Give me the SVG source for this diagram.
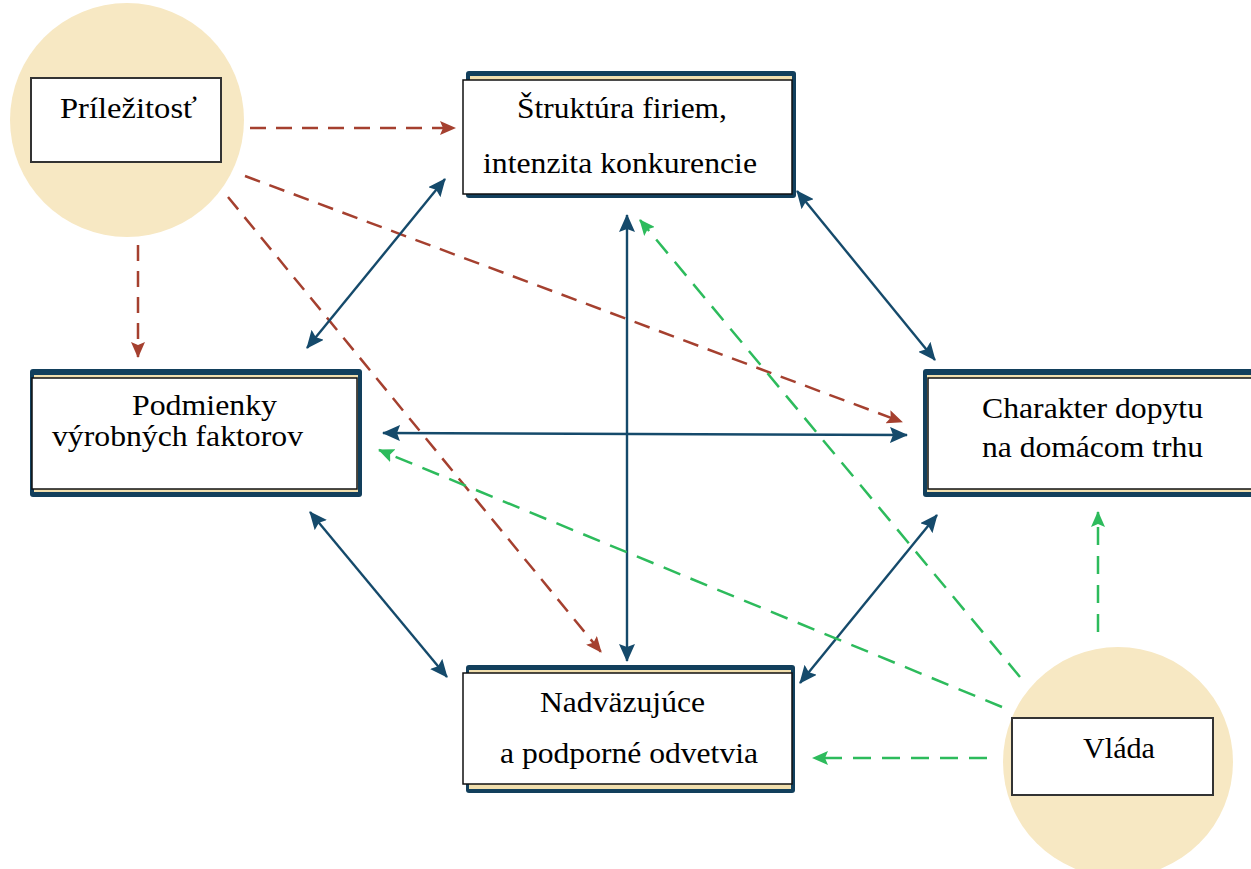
<svg xmlns="http://www.w3.org/2000/svg" width="1251" height="869" viewBox="0 0 1251 869">
  <defs>
    <style>
      .circ { fill: #f7e8c3; }
      .navy { fill: #123f5c; }
      .cream { fill: #f1dfae; }
      .inner { fill: #ffffff; stroke: #111111; stroke-width: 1.5; }
      .sbox { fill: #ffffff; stroke: #333333; stroke-width: 2; }
      .lbl { font-size: 30px; fill: #000000; }
      .nv { stroke: #154a6b; stroke-width: 2.4; fill: none; marker-start: url(#hN); marker-end: url(#hN); }
      .br { stroke: #a5402f; stroke-width: 2.5; fill: none; stroke-dasharray: 16 10; marker-end: url(#hB); }
      .gr { stroke: #2dbb5c; stroke-width: 2.5; fill: none; stroke-dasharray: 18 11; marker-end: url(#hG); }
    </style>
    <marker id="hN" markerUnits="userSpaceOnUse" markerWidth="18" markerHeight="16" refX="17" refY="8" orient="auto-start-reverse">
      <path d="M0,0 L18,8 L0,16 L3,8 z" fill="#154a6b"/>
    </marker>
    <marker id="hB" markerUnits="userSpaceOnUse" markerWidth="16" markerHeight="14" refX="15" refY="7" orient="auto">
      <path d="M0,0 L16,7 L0,14 L3,7 z" fill="#a5402f"/>
    </marker>
    <marker id="hG" markerUnits="userSpaceOnUse" markerWidth="16" markerHeight="14" refX="15" refY="7" orient="auto">
      <path d="M0,0 L16,7 L0,14 L3,7 z" fill="#2dbb5c"/>
    </marker>
  </defs>

  <rect width="1251" height="869" fill="#ffffff"/>

  <g font-family="'Liberation Serif', Tinos, 'Times New Roman', 'DejaVu Serif', serif">
  <g id="prilezitost">
    <circle class="circ" cx="127" cy="120" r="117"/>
    <rect class="sbox" x="31" y="78" width="190" height="84"/>
    <text class="lbl" x="60" y="118" textLength="137" lengthAdjust="spacingAndGlyphs">Príležitosť</text>
  </g>

  <g id="vlada">
    <circle class="circ" cx="1118" cy="762" r="115"/>
    <rect class="sbox" x="1012" y="718" width="201" height="77"/>
    <text class="lbl" x="1083" y="758" textLength="72" lengthAdjust="spacingAndGlyphs">Vláda</text>
  </g>

  <g id="struktura">
    <rect class="navy" x="466" y="71" width="330" height="127" rx="3"/>
    <rect class="cream" x="470" y="76" width="322" height="6"/>
    <rect class="inner" x="463" y="80" width="329" height="114"/>
    <text class="lbl" x="517" y="118" textLength="210" lengthAdjust="spacingAndGlyphs">Štruktúra firiem,</text>
    <text class="lbl" x="483" y="173" textLength="274" lengthAdjust="spacingAndGlyphs">intenzita konkurencie</text>
  </g>

  <g id="podmienky">
    <rect class="navy" x="30" y="369" width="332" height="128" rx="3"/>
    <rect class="cream" x="34" y="375" width="324" height="117"/>
    <rect class="inner" x="32" y="378" width="325" height="111"/>
    <text class="lbl" x="132" y="415" font-size="28" textLength="145" lengthAdjust="spacingAndGlyphs">Podmienky</text>
    <text class="lbl" x="52" y="446" font-size="28" textLength="251" lengthAdjust="spacingAndGlyphs">výrobných faktorov</text>
  </g>

  <g id="charakter">
    <rect class="navy" x="923" y="369" width="340" height="128" rx="3"/>
    <rect class="cream" x="927" y="375" width="330" height="117"/>
    <rect class="inner" x="928" y="378" width="330" height="111"/>
    <text class="lbl" x="982" y="418" textLength="221" lengthAdjust="spacingAndGlyphs">Charakter dopytu</text>
    <text class="lbl" x="982" y="457" textLength="221" lengthAdjust="spacingAndGlyphs">na domácom trhu</text>
  </g>

  <g id="nadvazujuce">
    <rect class="navy" x="466" y="665" width="329" height="128" rx="3"/>
    <rect class="cream" x="469" y="670" width="322" height="119"/>
    <rect class="inner" x="463" y="673" width="329" height="111"/>
    <text class="lbl" x="540" y="712" textLength="165" lengthAdjust="spacingAndGlyphs">Nadväzujúce</text>
    <text class="lbl" x="500" y="763" textLength="258" lengthAdjust="spacingAndGlyphs">a podporné odvetvia</text>
  </g>
  </g>

  <g id="connectors">
    <line class="br" x1="250" y1="128" x2="455" y2="128"/>
    <line class="br" x1="245" y1="176" x2="902" y2="422"/>
    <line class="br" x1="228" y1="197" x2="601" y2="652"/>
    <line class="br" x1="138" y1="245" x2="138" y2="357"/>

    <line class="nv" x1="445" y1="179" x2="307" y2="348"/>
    <line class="nv" x1="797" y1="191" x2="935" y2="360"/>
    <line class="nv" x1="627" y1="215" x2="627" y2="661"/>
    <line class="nv" x1="383" y1="433" x2="907" y2="435"/>
    <line class="nv" x1="310" y1="512" x2="447" y2="677"/>
    <line class="nv" x1="937" y1="515" x2="800" y2="683"/>

    <line class="gr" x1="1020" y1="677" x2="640" y2="220"/>
    <line class="gr" x1="1002" y1="707" x2="379" y2="450"/>
    <line class="gr" x1="987" y1="758" x2="813" y2="758"/>
    <line class="gr" x1="1098" y1="632" x2="1098" y2="512"/>
  </g>
</svg>
